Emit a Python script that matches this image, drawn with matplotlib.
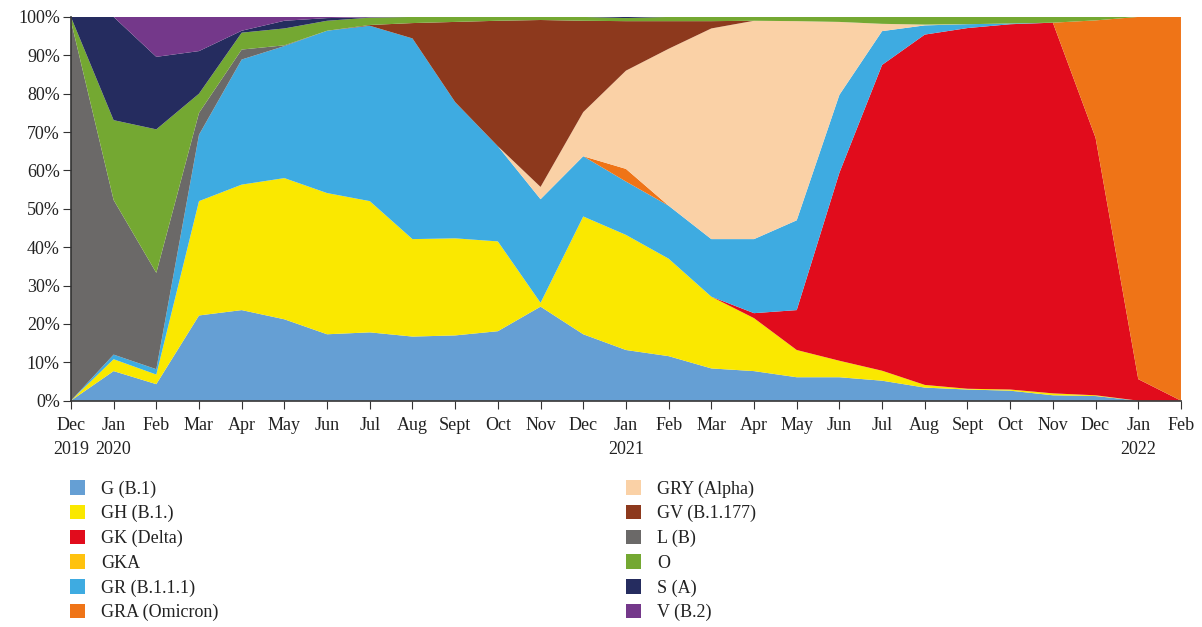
import numpy as np
import matplotlib.pyplot as plt
from matplotlib.patches import Patch

months = ['Dec\n2019', 'Jan\n2020', 'Feb', 'Mar', 'Apr', 'May', 'Jun', 'Jul', 'Aug', 'Sept', 'Oct', 'Nov', 'Dec',
          'Jan\n2021', 'Feb', 'Mar', 'Apr', 'May', 'Jun', 'Jul', 'Aug', 'Sept', 'Oct', 'Nov', 'Dec',
          'Jan\n2022', 'Feb']

# share of each clade per month (%)
g   = [0, 7.7, 4.3, 22.2, 23.6, 21.2, 17.3, 17.8, 16.7, 17.0, 18.1, 24.5, 17.3, 13.2, 11.6, 8.4, 7.7, 6.1, 6.1, 5.2, 3.4, 2.9, 2.6, 1.4, 1.2, 0, 0]
gh  = [0, 3.1, 2.5, 29.8, 32.7, 36.8, 36.8, 34.2, 25.4, 25.3, 23.4, 1.0, 30.7, 30.0, 25.4, 18.7, 13.8, 7.1, 4.3, 2.6, 0.7, 0.2, 0.3, 0.5, 0.2, 0, 0]
gk  = [0, 0, 0, 0, 0, 0, 0, 0, 0, 0, 0, 0, 0, 0, 0, 0, 1.3, 10.4, 49.0, 79.7, 91.3, 94.0, 95.2, 96.6, 67.1, 5.6, 0]
gka = [0] * 27
gr  = [0, 1.2, 1.4, 17.3, 32.6, 34.4, 42.3, 45.7, 52.3, 35.5, 24.8, 27.0, 15.7, 13.9, 13.8, 15.0, 19.3, 23.4, 20.3, 8.8, 2.4, 1.0, 0.2, 0, 0, 0, 0]
gra = [0, 0, 0, 0, 0, 0, 0, 0, 0, 0, 0, 0, 0, 3.3, 0, 0, 0, 0, 0, 0, 0, 0, 0, 0, 30.6, 94.4, 100]
gry = [0, 0, 0, 0, 0, 0, 0, 0, 0, 0, 0, 3.2, 11.5, 25.6, 40.9, 54.9, 56.9, 51.9, 19.0, 1.9, 0.2, 0, 0, 0, 0, 0, 0]
gv  = [0, 0, 0, 0, 0, 0, 0, 0.2, 4.0, 20.9, 32.7, 43.5, 23.8, 12.9, 7.2, 1.9, 0, 0, 0, 0, 0, 0, 0, 0, 0, 0, 0]
l   = [99, 40.3, 25.1, 5.7, 2.6, 0.2, 0, 0, 0, 0, 0, 0, 0, 0, 0, 0, 0, 0, 0, 0, 0, 0, 0, 0, 0, 0, 0]
o   = [1, 20.8, 37.4, 5.0, 4.4, 4.4, 2.6, 1.9, 1.6, 1.3, 1.0, 0.8, 1.0, 0.8, 1.1, 1.1, 1.0, 1.1, 1.3, 1.8, 2.0, 1.9, 1.7, 1.5, 0.9, 0, 0]
s   = [0, 26.9, 18.9, 11.1, 0.5, 2.0, 0.7, 0.1, 0, 0, 0, 0, 0, 0.3, 0, 0, 0, 0, 0, 0, 0, 0, 0, 0, 0, 0, 0]
v   = [0, 0, 10.4, 8.9, 3.6, 1.0, 0.3, 0.1, 0, 0, 0, 0, 0, 0, 0, 0, 0, 0, 0, 0, 0, 0, 0, 0, 0, 0, 0]

labels = ['G (B.1)', 'GH (B.1.)', 'GK (Delta)', 'GKA', 'GR (B.1.1.1)', 'GRA (Omicron)',
          'GRY (Alpha)', 'GV (B.1.177)', 'L (B)', 'O', 'S (A)', 'V (B.2)']
colors = ['#659fd4', '#fae800', '#e10c1c', '#ffc20e', '#3eabe1', '#ef7417',
          '#fad1a6', '#8d391d', '#6b6968', '#74a832', '#252c5f', '#74388a']

data = np.array([g, gh, gk, gka, gr, gra, gry, gv, l, o, s, v], dtype=float)
data = data / data.sum(axis=0) * 100
x = np.arange(len(months))

plt.rcParams['font.family'] = ['Liberation Serif', 'DejaVu Serif']
plt.rcParams['font.size'] = 13

fig = plt.figure(figsize=(12.02, 6.27), dpi=100)
ax = fig.add_axes([0.059, 0.361, 0.9235, 0.612])
ax.stackplot(x, data, colors=colors, linewidth=0)

ax.set_xlim(0, len(months) - 1)
ax.set_ylim(0, 100)
ax.set_xticks(x)
ax.set_xticklabels(months, linespacing=1.55)
ax.set_yticks(range(0, 101, 10))
ax.set_yticklabels(['{}%'.format(t) for t in range(0, 101, 10)])
ax.tick_params(axis='both', direction='out', length=6, color='#333333', labelcolor='#222222')
ax.tick_params(axis='x', pad=6)
ax.tick_params(axis='y', pad=2)
for side in ['top', 'right']:
    ax.spines[side].set_visible(False)
for side in ['left', 'bottom']:
    ax.spines[side].set_color('#333333')
    ax.spines[side].set_linewidth(1.2)

handles = [Patch(facecolor=c, label=t) for c, t in zip(colors, labels)]
for col, xpos in [(0, 0.0445), (1, 0.507)]:
    fig.legend(handles=handles[col * 6:(col + 1) * 6], loc='upper left',
               bbox_to_anchor=(xpos, 0.26), frameon=False, ncol=1,
               handlelength=0.85, handleheight=0.85, handletextpad=0.9,
               labelspacing=0.4, fontsize=13, labelcolor='#222222')

fig.savefig('out.png', dpi=100)
